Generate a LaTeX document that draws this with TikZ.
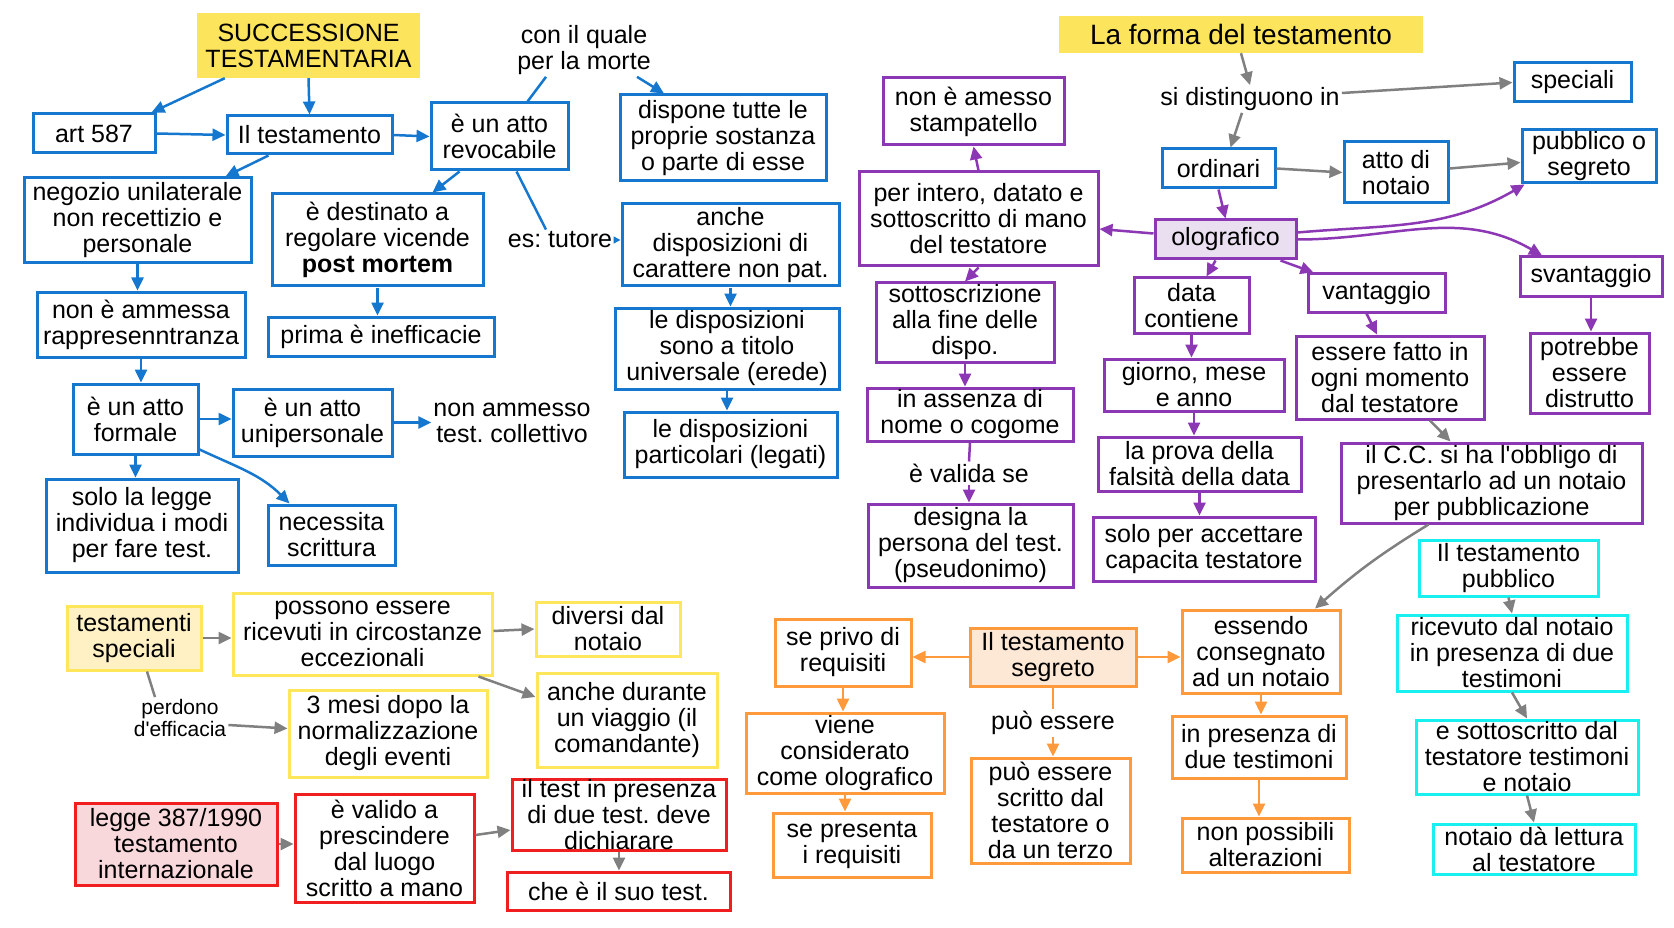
\documentclass[tikz,border=0pt]{standalone}
\usepackage{fontspec}
\setmainfont{Liberation Sans}
\usetikzlibrary{arrows.meta}
\definecolor{cblu}{RGB}{22,119,206}
\definecolor{cpur}{RGB}{140,55,180}
\definecolor{cpurf}{RGB}{233,223,240}
\definecolor{cora}{RGB}{255,154,60}
\definecolor{coraf}{RGB}{253,232,214}
\definecolor{cyel}{RGB}{255,230,90}
\definecolor{cyelf}{RGB}{255,241,196}
\definecolor{ctit}{RGB}{252,228,92}
\definecolor{cred}{RGB}{240,30,30}
\definecolor{credf}{RGB}{249,216,220}
\definecolor{ccya}{RGB}{24,240,240}
\definecolor{cgry}{RGB}{128,128,128}
\begin{document}
\frenchspacing
\begin{tikzpicture}[x=1pt,y=-1pt,font=\fontsize{25}{26}\selectfont,
    box/.style={line width=3pt,fill=white,align=center,inner sep=0pt},
    bbox/.style={box,draw=cblu},
    pbox/.style={box,draw=cpur},
    obox/.style={box,draw=cora},
    ybox/.style={box,draw=cyel},
    rbox/.style={box,draw=cred},
    cbox/.style={box,draw=ccya},
    tbox/.style={fill=ctit,align=center,inner sep=0pt},
    lbl/.style={align=center,inner sep=2pt},
    barr/.style={draw=cblu,line width=2.5pt,-{Triangle[length=13pt,width=12pt]}},
    parr/.style={draw=cpur,line width=2.5pt,-{Triangle[length=13pt,width=12pt]}},
    oarr/.style={draw=cora,line width=2.5pt,-{Triangle[length=13pt,width=12pt]}},
    garr/.style={draw=cgry,line width=2.5pt,-{Triangle[length=13pt,width=12pt]}},
    bline/.style={draw=cblu,line width=2.5pt},
    pline/.style={draw=cpur,line width=2.5pt},
    oline/.style={draw=cora,line width=2.5pt},
    gline/.style={draw=cgry,line width=2.5pt}]
\useasboundingbox (0,0) rectangle (1674,928);
% successione testamentaria
\node[tbox,minimum width=223pt,minimum height=65pt] (succ) at (308.5,45.5) {SUCCESSIONE\\TESTAMENTARIA};
\node[bbox,minimum width=122pt,minimum height=39pt] (art) at (94,133.5) {art 587};
\node[bbox,minimum width=165pt,minimum height=38pt] (test) at (309.5,135) {Il testamento};
\node[bbox,minimum width=137pt,minimum height=67pt] (revoc) at (499.5,136.5) {è un atto\\revocabile};
\node[lbl] (quale) at (584,50) {con il quale\\per la morte};
\node[bbox,minimum width=206pt,minimum height=86pt] (dispone) at (723,138) {dispone tutte le\\proprie sostanza\\o parte di esse};
\node[bbox,minimum width=227pt,minimum height=85pt] (negozio) at (137.5,220.5) {negozio unilaterale\\non recettizio e\\personale};
\node[bbox,minimum width=211pt,minimum height=92pt] (destin) at (377.5,240) {è destinato a\\regolare vicende\\\textbf{post mortem}};
\node[lbl] (tutore) at (560,240) {es: tutore};
\node[bbox,minimum width=217pt,minimum height=82pt] (anche) at (730.5,245) {anche\\disposizioni di\\carattere non pat.};
\node[bbox,minimum width=208pt,minimum height=65pt] (ammessa) at (141,324.5) {non è ammessa\\rappresenntranza};
\node[bbox,minimum width=226pt,minimum height=39pt] (prima) at (381,336.5) {prima è inefficacie};
\node[bbox,minimum width=224pt,minimum height=81pt] (titolo) at (727,348.5) {le disposizioni\\sono a titolo\\universale (erede)};
\node[bbox,minimum width=213pt,minimum height=65pt] (partic) at (730.5,444.5) {le disposizioni\\particolari (legati)};
\node[bbox,minimum width=125pt,minimum height=70pt] (formale) at (135.5,419) {è un atto\\formale};
\node[bbox,minimum width=159pt,minimum height=67pt] (uniper) at (312.5,422.5) {è un atto\\unipersonale};
\node[lbl] (collett) at (512,423) {non ammesso\\test. collettivo};
\node[bbox,minimum width=192pt,minimum height=93pt] (legge) at (142,525.5) {solo la legge\\individua i modi\\per fare test.};
\node[bbox,minimum width=127pt,minimum height=60pt] (scritt) at (331.5,535) {necessita\\scrittura};
\draw[barr] ([xshift=28pt]succ.south west) -- ([xshift=-5pt]art.north east);
\draw[barr] (succ.south) -- (test.north);
\draw[barr] (art.east) -- (test.west);
\draw[barr] (test.east) -- (revoc.west);
\draw[barr] ([xshift=-41pt]test.south) -- ([xshift=88pt]negozio.north);
\draw[barr] ([xshift=-40pt]revoc.south) -- ([xshift=55pt]destin.north);
\draw[bline] ([xshift=28pt]revoc.north) -- ([xshift=-38pt]quale.south);
\draw[barr] ([xshift=53pt]quale.south) -- ([xshift=-59pt]dispone.north);
\draw[bline] ([xshift=17pt]revoc.south) -- ([xshift=-14pt]tutore.north);
\draw[draw=cblu,line width=1.5pt,-{Triangle[length=7pt,width=7pt]}] (tutore.east) -- (tutore.east -| anche.west);
\draw[barr] (anche.south) -- (anche.south |- titolo.north);
\draw[barr] (titolo.south) -- (titolo.south |- partic.north);
\draw[barr] (destin.south) -- (destin.south |- prima.north);
\draw[barr] (negozio.south) -- (negozio.south |- ammessa.north);
\draw[barr] (ammessa.south) -- (ammessa.south |- formale.north);
\draw[barr] (formale.east) -- (formale.east -| uniper.west);
\draw[barr] (uniper.east) -- (uniper.east -| collett.west);
\draw[barr] (formale.south) -- (formale.south |- legge.north);
\draw[barr] ([yshift=6pt]formale.south east) to[out=-25,in=135] ([xshift=-42pt]scritt.north);
% testamenti speciali
\node[ybox,fill=cyelf,minimum width=134pt,minimum height=64pt] (tspec) at (134,638) {testamenti\\speciali};
\node[ybox,minimum width=259pt,minimum height=82pt] (possono) at (362.5,634) {possono essere\\ricevuti in circostanze\\eccezionali};
\node[ybox,minimum width=144pt,minimum height=54pt] (diversi) at (608,629) {diversi dal\\notaio};
\node[ybox,minimum width=180pt,minimum height=94pt] (durante) at (627,720) {anche durante\\un viaggio (il\\comandante)};
\node[lbl,font=\fontsize{21}{22}\selectfont] (perdono) at (180,718) {perdono\\d\textquotesingle efficacia};
\node[ybox,minimum width=198pt,minimum height=87pt] (mesi) at (388,733.5) {3 mesi dopo la\\normalizzazione\\degli eventi};
\draw[garr] (tspec.east) -- (tspec.east -| possono.west);
\draw[garr] ([yshift=3pt]possono.east) -- (diversi.west);
\draw[garr] ([xshift=-15pt]possono.south east) -- ([yshift=23pt]durante.west);
\draw[gline] ([xshift=13pt]tspec.south) -- ([xshift=-25pt]perdono.north);
\draw[garr] ([yshift=-7pt]perdono.east) -- ([yshift=5pt]mesi.west);
% testamento internazionale
\node[rbox,fill=credf,minimum width=202pt,minimum height=82pt] (intl) at (176,844) {legge 387/1990\\testamento\\internazionale};
\node[rbox,minimum width=179pt,minimum height=108pt] (valido) at (384.5,848) {è valido a\\prescindere\\dal luogo\\scritto a mano};
\node[rbox,minimum width=214pt,minimum height=70pt] (presenza) at (619,815) {il test in presenza\\di due test. deve\\dichiarare};
\node[rbox,minimum width=223pt,minimum height=38pt] (suo) at (618.5,891) {che è il suo test.};
\draw[garr] (intl.east) -- (intl.east -| valido.west);
\draw[garr] ([yshift=13pt]valido.east) -- ([yshift=-15pt]presenza.west);
\draw[garr] (presenza.south) -- (presenza.south |- suo.north);
% la forma del testamento
\node[tbox,font=\fontsize{28}{30}\selectfont,minimum width=364pt,minimum height=37pt] (forma) at (1241,34.5) {La forma del testamento};
\node[lbl] (distingu) at (1250,99) {si distinguono in};
\node[bbox,minimum width=117pt,minimum height=39pt] (spec) at (1572.5,82.5) {speciali};
\node[bbox,minimum width=113pt,minimum height=39pt] (ordin) at (1218.5,168.5) {ordinari};
\node[bbox,minimum width=104pt,minimum height=61pt] (notaio) at (1396,172.5) {atto di\\notaio};
\node[bbox,minimum width=134pt,minimum height=53pt] (pubseg) at (1589,156.5) {pubblico o\\segreto};
\draw[garr] (forma.south) -- (distingu.north);
\draw[garr] ([yshift=6pt]distingu.east) -- (spec.west);
\draw[garr] ([xshift=-8pt]distingu.south) -- ([xshift=12pt]ordin.north);
\draw[garr] (ordin.east) -- (notaio.west);
\draw[garr] ([yshift=4pt]notaio.east) -- ([yshift=-6pt]pubseg.west);
% olografico
\node[pbox,minimum width=181pt,minimum height=67pt] (stamp) at (973.5,111.5) {non è amesso\\stampatello};
\node[pbox,minimum width=239pt,minimum height=94pt] (intero) at (978.5,219) {per intero, datato e\\sottoscritto di mano\\del testatore};
\node[pbox,fill=cpurf,minimum width=141pt,minimum height=39pt] (olog) at (1225.5,239.5) {olografico};
\node[pbox,minimum width=178pt,minimum height=79pt] (sottos) at (965,322.5) {sottoscrizione\\alla fine delle\\dispo.};
\node[pbox,minimum width=115pt,minimum height=55pt] (data) at (1191.5,305.5) {data\\contiene};
\node[pbox,minimum width=137pt,minimum height=38pt] (vantag) at (1376.5,293) {vantaggio};
\node[pbox,minimum width=142pt,minimum height=39pt] (svantag) at (1591,276.5) {svantaggio};
\node[pbox,minimum width=206pt,minimum height=53pt] (assenza) at (970,414.5) {in assenza di\\nome o cogome};
\node[lbl] (valida) at (969,473) {è valida se};
\node[pbox,minimum width=205pt,minimum height=83pt] (designa) at (970.5,545.5) {designa la\\persona del test.\\(pseudonimo)};
\node[pbox,minimum width=180pt,minimum height=52pt] (giorno) at (1194,385) {giorno, mese\\e anno};
\node[pbox,minimum width=203pt,minimum height=54pt] (prova) at (1199.5,464) {la prova della\\falsità della data};
\node[pbox,minimum width=222pt,minimum height=64pt] (accett) at (1204,549) {solo per accettare\\capacita testatore};
\node[pbox,minimum width=188pt,minimum height=83pt] (fatto) at (1390,377.5) {essere fatto in\\ogni momento\\dal testatore};
\node[pbox,minimum width=119pt,minimum height=80pt] (distr) at (1589.5,373) {potrebbe\\essere\\distrutto};
\node[pbox,minimum width=301pt,minimum height=80pt] (cc) at (1491.5,483) {il C.C. si ha l\textquotesingle obbligo di\\presentarlo ad un notaio\\per pubblicazione};
\draw[parr] (ordin.south) -- (olog.north);
\draw[parr] ([yshift=6pt]olog.west) -- ([yshift=-10pt]intero.east);
\draw[parr] (intero.north) -- (stamp.south);
\draw[parr] (intero.south) -- (sottos.north);
\draw[parr] ([yshift=7pt]olog.east) to[out=5,in=-150] ([xshift=4pt]pubseg.south west);
\draw[parr] (olog.east) to[out=0,in=150] ([xshift=-49pt]svantag.north);
\draw[parr] ([xshift=-10pt]olog.south) -- ([xshift=15pt]data.north);
\draw[parr] ([xshift=55pt]olog.south) -- ([xshift=-63pt]vantag.north);
\draw[parr] (sottos.south) -- (sottos.south |- assenza.north);
\draw[pline] (assenza.south) -- (valida.north);
\draw[parr] (valida.south) -- (valida.south |- designa.north);
\draw[parr] (data.south) -- (data.south |- giorno.north);
\draw[parr] (giorno.south) -- (giorno.south |- prova.north);
\draw[parr] (prova.south) -- (prova.south |- accett.north);
\draw[parr] ([xshift=-10pt]vantag.south) -- ([xshift=-13pt]fatto.north);
\draw[parr] (svantag.south) -- (svantag.south |- distr.north);
\draw[garr] ([xshift=40pt]fatto.south) -- ([xshift=-41pt]cc.north);
% testamento segreto
\node[obox,fill=coraf,minimum width=166pt,minimum height=58pt] (segr) at (1053,657) {Il testamento\\segreto};
\node[obox,minimum width=136pt,minimum height=67pt] (privo) at (843,652.5) {se privo di\\requisiti};
\node[obox,minimum width=158pt,minimum height=83pt] (essendo) at (1261,651.5) {essendo\\consegnato\\ad un notaio};
\node[obox,minimum width=198pt,minimum height=80pt] (viene) at (845,753) {viene\\considerato\\come olografico};
\node[lbl] (puo) at (1053,723) {può essere};
\node[obox,minimum width=159pt,minimum height=105pt] (scritto) at (1050.5,810.5) {può essere\\scritto dal\\testatore o\\da un terzo};
\node[obox,minimum width=174pt,minimum height=62pt] (duetest) at (1259,747) {in presenza di\\due testimoni};
\node[obox,minimum width=158pt,minimum height=64pt] (presenta) at (852,845) {se presenta\\i requisiti};
\node[obox,minimum width=167pt,minimum height=54pt] (altera) at (1265.5,845) {non possibili\\alterazioni};
\draw[garr] ([xshift=-63pt]cc.south) to[bend right=5] ([xshift=54pt]essendo.north);
\draw[oarr] (segr.west) -- (segr.west -| privo.east);
\draw[oarr] (segr.east) -- (segr.east -| essendo.west);
\draw[oline] (segr.south) -- (puo.north);
\draw[oarr] (puo.south) -- (puo.south |- scritto.north);
\draw[oarr] (privo.south) -- (privo.south |- viene.north);
\draw[oarr] (viene.south) -- (viene.south |- presenta.north);
\draw[oarr] (essendo.south) -- (essendo.south |- duetest.north);
\draw[oarr] (duetest.south) -- (duetest.south |- altera.north);
% testamento pubblico
\node[cbox,minimum width=179pt,minimum height=56pt] (pubbl) at (1508.5,568) {Il testamento\\pubblico};
\node[cbox,minimum width=230pt,minimum height=76pt] (ricev) at (1512,653) {ricevuto dal notaio\\in presenza di due\\testimoni};
\node[cbox,minimum width=222pt,minimum height=74pt] (sotto2) at (1527,757) {e sottoscritto dal\\testatore testimoni\\e notaio};
\node[cbox,minimum width=202pt,minimum height=50pt] (lettura) at (1534,849) {notaio dà lettura\\al testatore};
\draw[garr] (pubbl.south) -- (ricev.north);
\draw[garr] (ricev.south) -- (sotto2.north);
\draw[garr] (sotto2.south) -- (lettura.north);
\end{tikzpicture}
\end{document}
